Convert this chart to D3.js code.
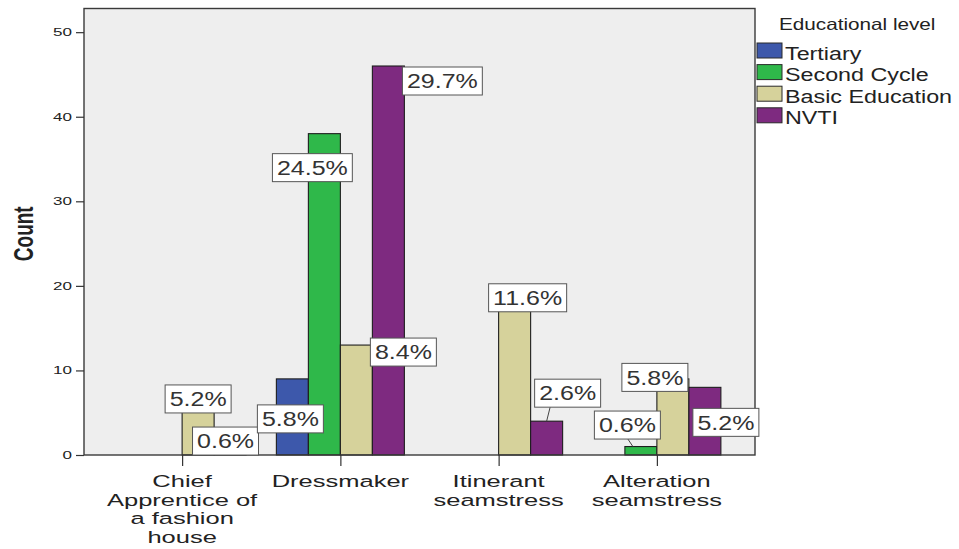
<!DOCTYPE html>
<html>
<head>
<meta charset="utf-8">
<script src="https://cdn.jsdelivr.net/npm/d3@7/dist/d3.min.js"></script>
<style>
  html, body { margin: 0; padding: 0; background: #ffffff; }
  svg { display: block; font-family: "Liberation Sans", Arial, sans-serif; }
</style>
</head>
<body>
<svg id="chart" width="959" height="549"></svg>
<script>
// Occupation by educational level (counts, labelled as % of all 155 respondents)
const categories = ["Chief Apprentice of a fashion house", "Dressmaker", "Itinerant seamstress", "Alteration seamstress"];
const categoryLines = [["Chief", "Apprentice of", "a fashion", "house"], ["Dressmaker"], ["Itinerant", "seamstress"], ["Alteration", "seamstress"]];
const series = ["Tertiary", "Second Cycle", "Basic Education", "NVTI"];
const tertiary = [0, 9, 0, 0];
const secondCycle = [0, 38, 0, 1];
const basicEducation = [8, 13, 18, 9];
const nvti = [1, 46, 4, 8];
const yTicks = [0, 10, 20, 30, 40, 50];
const seriesValues = [tertiary, secondCycle, basicEducation, nvti];
const colors = ["#3d58ab", "#2fb84a", "#d6d29b", "#7e2a80"];
const total = d3.sum(seriesValues.flat());

// where each percentage box sits relative to the top centre of its bar
const labelLayout = [
  { s: 2, c: 0, dx: 0, dy: 11.6 },
  { s: 3, c: 0, dx: -4.6, dy: -5.5 },
  { s: 0, c: 1, dx: -2, dy: 40 },
  { s: 1, c: 1, dx: -12, dy: 34 },
  { s: 2, c: 1, dx: 47, dy: 7 },
  { s: 3, c: 1, dx: 54, dy: 15 },
  { s: 2, c: 2, dx: 13, dy: -5 },
  { s: 3, c: 2, dx: 21, dy: -28, leader: [3.5, 0] },
  { s: 1, c: 3, dx: -13.5, dy: -21.5, leader: [-13, -8] },
  { s: 2, c: 3, dx: -18, dy: -1.5 },
  { s: 3, c: 3, dx: 21, dy: 35 }
];

const svg = d3.select("#chart");
const plot = { left: 84, right: 755, top: 8.5, bottom: 455 };

const x = d3.scalePoint().domain(categories).range([plot.left, plot.right]).padding(0.62);
const inner = d3.scaleBand().domain(series).range([-64, 64]).paddingInner(0);
const y = d3.scaleLinear().domain([0, 52.8]).range([plot.bottom, plot.top]);

// text drawn with a horizontal stretch
function stretchText(parent, px, py, str, size, sx, anchor, weight, fill) {
  const g = parent.append("g").attr("transform", `translate(${px},${py}) scale(${sx},1)`);
  return g.append("text")
    .attr("text-anchor", anchor)
    .attr("font-size", size)
    .attr("font-weight", weight || "normal")
    .attr("fill", fill || "#222")
    .text(str);
}

// plot background
svg.append("rect")
  .attr("x", plot.left).attr("y", plot.top)
  .attr("width", plot.right - plot.left).attr("height", plot.bottom - plot.top)
  .attr("fill", "#eeeeee");

// bars
const barGroups = svg.append("g").selectAll("g")
  .data(series)
  .join("g")
  .attr("fill", (d, i) => colors[i]);

barGroups.selectAll("rect")
  .data((s, si) => categories.map((c, ci) => ({ s: si, c: ci, v: seriesValues[si][ci] })).filter(d => d.v > 0))
  .join("rect")
  .attr("x", d => x(categories[d.c]) + inner(series[d.s]))
  .attr("y", d => y(d.v))
  .attr("width", inner.bandwidth())
  .attr("height", d => y(0) - y(d.v))
  .attr("stroke", "#1e1e1e")
  .attr("stroke-width", 1.1);

// frame
svg.append("rect")
  .attr("x", plot.left).attr("y", plot.top)
  .attr("width", plot.right - plot.left).attr("height", plot.bottom - plot.top)
  .attr("fill", "none").attr("stroke", "#3a3a3a").attr("stroke-width", 1.4);

// y axis
const yAxis = svg.append("g").attr("transform", `translate(${plot.left},0)`)
  .call(d3.axisLeft(y).tickValues(yTicks).tickSize(8).tickFormat(""));
yAxis.select(".domain").remove();
yAxis.selectAll("line").attr("stroke", "#333").attr("stroke-width", 1.2);
yTicks.forEach(t => stretchText(svg, 72, y(t) + 4, String(t), 11, 1.55, "end"));

svg.append("g")
  .attr("transform", `translate(33,${(plot.top + plot.bottom) / 2 + 2}) rotate(-90) scale(1,1.47)`)
  .append("text")
  .attr("text-anchor", "middle").attr("font-size", 19).attr("font-weight", "bold").attr("fill", "#222")
  .text("Count");

// x axis
const xAxis = svg.append("g").attr("transform", `translate(0,${plot.bottom})`)
  .call(d3.axisBottom(x).tickSize(11).tickFormat(""));
xAxis.select(".domain").remove();
xAxis.selectAll("line").attr("stroke", "#333").attr("stroke-width", 1.2);
categories.forEach((c, i) => {
  categoryLines[i].forEach((line, li) => {
    stretchText(svg, x(c), 487 + li * 18.7, line, 17, 1.5, "middle");
  });
});

// percentage labels
const labels = svg.append("g");
labelLayout.forEach(L => {
  const v = seriesValues[L.s][L.c];
  const bx = x(categories[L.c]) + inner(series[L.s]) + inner.bandwidth() / 2;
  const by = y(v);
  const cx = bx + L.dx, cy = by + L.dy;
  const txt = (v / total * 100).toFixed(1) + "%";
  const g = labels.append("g");
  const rect = g.append("rect").attr("fill", "#ffffff").attr("stroke", "#555").attr("stroke-width", 1);
  const t = stretchText(g, cx, cy + 7.3, txt, 20.5, 1.22, "middle", "normal", "#333");
  const w = t.node().getComputedTextLength() * 1.22 + 9;
  const h = 28;
  rect.attr("x", cx - w / 2).attr("y", cy - h / 2).attr("width", w).attr("height", h);
  if (L.leader) {
    labels.insert("line", ":first-child")
      .attr("x1", bx + L.leader[0]).attr("y1", cy + h / 2)
      .attr("x2", bx + L.leader[1]).attr("y2", by)
      .attr("stroke", "#444").attr("stroke-width", 1);
  }
});

// legend
const legend = svg.append("g");
stretchText(legend, 779, 30, "Educational level", 16.3, 1.27, "start");
series.forEach((s, i) => {
  legend.append("rect")
    .attr("x", 757).attr("y", 43 + i * 21.6)
    .attr("width", 25).attr("height", 15)
    .attr("fill", colors[i]).attr("stroke", "#2a2a2a").attr("stroke-width", 1);
  stretchText(legend, 785, 59.5 + i * 21.6, s, 18.5, 1.26, "start");
});
</script>
</body>
</html>
